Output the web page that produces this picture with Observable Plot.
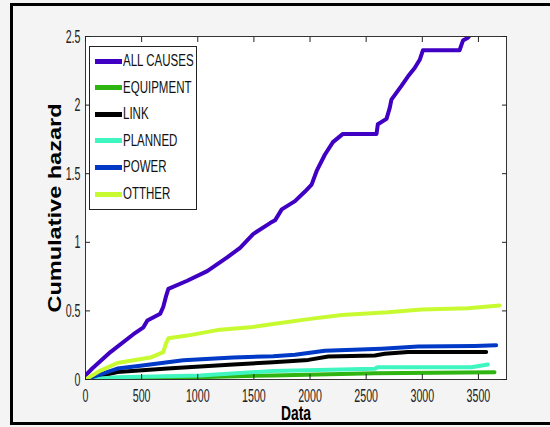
<!DOCTYPE html>
<html>
<head>
<meta charset="utf-8">
<script src="https://cdn.jsdelivr.net/npm/d3@7"></script>
<script src="https://cdn.jsdelivr.net/npm/@observablehq/plot@0.6"></script>
<style>
  html, body { margin: 0; padding: 0; background: #f4f4f4; }
  #wrap { position: relative; width: 550px; height: 427px; background: #f4f4f4; overflow: hidden; font-family: "Liberation Sans", Arial, sans-serif; }
  #border { position: absolute; left: 10px; top: 3px; width: 600px; height: 416px; border: 3px solid #000; }
  #chart { position: absolute; left: 0; top: 0; }
  #legend { position: absolute; left: 89px; top: 46px; width: 108px; height: 164px; background: #fff; border: 1px solid #222; box-sizing: border-box; }
  .row { position: absolute; left: 0; height: 26px; display: flex; align-items: center; }
  .swatch { width: 27px; height: 5px; margin-left: 5px; }
  .lab { font-size: 16px; color: #111; transform: scaleX(0.72); transform-origin: left center; white-space: nowrap; margin-left: 1px; }
</style>
</head>
<body>
<div id="wrap">
  <div id="border"></div>
  <div id="chart"></div>
  <div id="legend"></div>
</div>
<script>
// ---- data ----
const xTicks = [0, 500, 1000, 1500, 2000, 2500, 3000, 3500];
const yTicks = [0, 0.5, 1, 1.5, 2, 2.5];
const seriesNames = ["ALL CAUSES", "EQUIPMENT", "LINK", "PLANNED", "POWER", "OTTHER"];
const seriesColors = ["#3f00c4", "#2fb512", "#000000", "#3ff5c0", "#0039c6", "#c8fa32"];

const allCausesX = [0, 60, 222, 427, 516, 551, 666, 693, 715, 738, 906, 1084, 1262, 1377, 1493, 1644, 1688, 1748, 1866, 1955, 2014, 2059, 2133, 2204, 2293, 2592, 2604, 2681, 2710, 2725, 2814, 2873, 2932, 2977, 3006, 3332, 3362, 3406, 3440];
const allCausesY = [0.03, 0.08, 0.2, 0.33, 0.38, 0.43, 0.48, 0.53, 0.60, 0.66, 0.72, 0.79, 0.89, 0.96, 1.06, 1.14, 1.16, 1.24, 1.30, 1.37, 1.42, 1.52, 1.64, 1.73, 1.79, 1.79, 1.86, 1.90, 1.98, 2.04, 2.14, 2.21, 2.27, 2.33, 2.40, 2.40, 2.47, 2.49, 2.53];

const equipmentX = [0, 427, 1671, 2577, 3643];
const equipmentY = [0, 0.005, 0.03, 0.046, 0.053];

const linkX = [0, 284, 729, 1315, 1671, 1985, 2163, 2577, 2666, 2873, 3569];
const linkY = [0, 0.055, 0.08, 0.11, 0.125, 0.143, 0.167, 0.175, 0.187, 0.20, 0.20];

const plannedX = [0, 284, 1022, 1671, 2577, 2606, 3436, 3584];
const plannedY = [0, 0.017, 0.03, 0.062, 0.078, 0.09, 0.09, 0.11];

const powerX = [0, 284, 489, 871, 1315, 1671, 1866, 2133, 2637, 2962, 3466, 3658];
const powerY = [0, 0.08, 0.10, 0.14, 0.16, 0.17, 0.18, 0.21, 0.225, 0.24, 0.245, 0.25];

const otherX = [0, 133, 284, 427, 578, 693, 715, 738, 906, 1173, 1466, 1671, 1985, 2281, 2695, 2992, 3406, 3688];
const otherY = [0, 0.065, 0.12, 0.14, 0.16, 0.2, 0.26, 0.30, 0.32, 0.36, 0.38, 0.405, 0.44, 0.47, 0.49, 0.51, 0.52, 0.54];

const xLabel = "Data";
const yLabel = "Cumulative hazard";

// ---- build table ----
const seriesXs = [allCausesX, equipmentX, linkX, plannedX, powerX, otherX];
const seriesYs = [allCausesY, equipmentY, linkY, plannedY, powerY, otherY];
const rows = [];
seriesNames.forEach((name, i) => {
  seriesXs[i].forEach((x, j) => rows.push({series: name, x, y: seriesYs[i][j]}));
});

const plot = Plot.plot({
  width: 550,
  height: 427,
  marginLeft: 85,
  marginRight: 44,
  marginTop: 36,
  marginBottom: 48,
  style: {background: "transparent", fontFamily: "'Liberation Sans', Arial, sans-serif", color: "#222"},
  x: {domain: [0, 3750]},
  y: {domain: [0, 2.5]},
  color: {domain: seriesNames, range: seriesColors},
  marks: [
    Plot.frame({fill: "white", stroke: "none"}),
    Plot.line(rows, {x: "x", y: "y", z: "series", stroke: "series", strokeWidth: 4, strokeLinejoin: "round", clip: true}),
    Plot.frame({stroke: "#333", strokeWidth: 1}),
    Plot.axisX(xTicks, {anchor: "bottom", tickSize: 5, dy: -5, fill: "none", label: null, stroke: "#222"}),
    Plot.axisX(xTicks, {anchor: "top", tickSize: 5, dy: 5, fill: "none", label: null, stroke: "#222"}),
    Plot.axisY(yTicks, {anchor: "left", tickSize: 5, dx: 5, fill: "none", label: null, stroke: "#222"}),
    Plot.axisY(yTicks, {anchor: "right", tickSize: 5, dx: -5, fill: "none", label: null, stroke: "#222"}),
    Plot.axisX(xTicks, {anchor: "bottom", tickSize: 0, tickPadding: 9, fontSize: 19, fill: "#222",
      tickFormat: d => String(d), label: xLabel, labelAnchor: "center", labelOffset: 40, labelArrow: "none"}),
    Plot.axisY(yTicks, {anchor: "left", tickSize: 0, tickPadding: 5, fontSize: 19, fill: "#222",
      tickFormat: d => String(d), label: yLabel, labelAnchor: "center", labelOffset: 37, labelArrow: "none"})
  ]
});
document.getElementById("chart").append(plot);

// condensed tick labels
d3.select(plot).selectAll('g[aria-label="x-axis tick label"] text, g[aria-label="y-axis tick label"] text').each(function() {
  const w = this.getComputedTextLength();
  this.setAttribute("textLength", (w * 0.56).toFixed(1));
  this.setAttribute("lengthAdjust", "spacingAndGlyphs");
});
d3.select(plot).selectAll('g[aria-label="y-axis label"] text').each(function() {
  this.setAttribute("font-size", 18);
  this.setAttribute("font-weight", "bold");
  this.setAttribute("fill", "#000");
  this.setAttribute("textLength", 209);
  this.setAttribute("lengthAdjust", "spacingAndGlyphs");
});
d3.select(plot).selectAll('g[aria-label="x-axis label"] text').each(function() {
  this.setAttribute("font-size", 21);
  this.setAttribute("font-weight", "bold");
  this.setAttribute("fill", "#000");
  this.setAttribute("textLength", 30);
  this.setAttribute("lengthAdjust", "spacingAndGlyphs");
});

// legend
const legend = d3.select("#legend");
seriesNames.forEach((name, i) => {
  const row = legend.append("div").attr("class", "row").style("top", (1 + i * 26.6) + "px");
  row.append("div").attr("class", "swatch").style("background", seriesColors[i]);
  row.append("div").attr("class", "lab").text(name);
});
</script>
</body>
</html>
